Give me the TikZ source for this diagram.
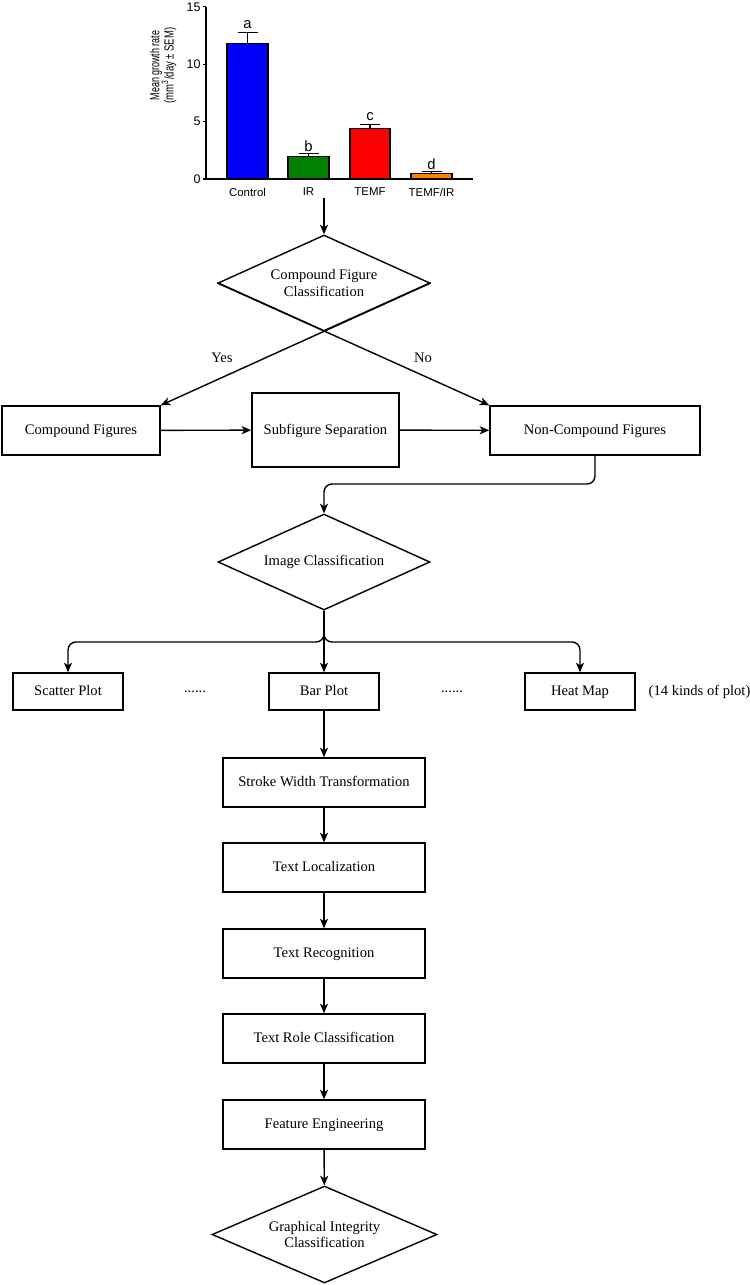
\documentclass[tikz,border=0pt]{standalone}
\usepackage{fontspec}
\usepackage{graphicx}
\setmainfont{Liberation Serif}
\newfontfamily\wykresfont{Liberation Sans}
\usetikzlibrary{shapes.geometric,arrows.meta}

\definecolor{kontrola}{RGB}{0,0,255}
\definecolor{zielony}{RGB}{0,128,0}
\definecolor{czerwony}{RGB}{255,0,0}
\definecolor{pomarancz}{RGB}{255,125,0}

\tikzset{
  blok/.style={draw, inner sep=0pt, text height=1.55ex, text depth=0.45ex},
  srodek/.style={blok, minimum width=4.04cm, minimum height=0.98cm},
  malyblok/.style={blok, minimum width=2.2cm, minimum height=0.74cm},
  romb/.style={diamond, aspect=2.2, draw, inner sep=0pt, align=center,
    minimum width=4.24cm, minimum height=1.92cm},
  osie/.style={font=\wykresfont\fontsize{7.1}{8}\selectfont, inner sep=0pt},
  opis/.style={font=\wykresfont\fontsize{7.5}{8}\selectfont, inner sep=0pt, rotate=90},
  litera/.style={font=\wykresfont\fontsize{8.4}{9}\selectfont, inner sep=0pt},
  grupa/.style={font=\wykresfont\fontsize{6.5}{7}\selectfont, inner sep=0pt}
}

\begin{document}
\begin{tikzpicture}[x=0.02cm, y=-0.02cm, >={Stealth[length=5.5pt,width=4.6pt,inset=1.5pt]}, thick,
    font=\fontsize{8.3}{9.2}\selectfont]
    \useasboundingbox (0,0) rectangle (750,1285);

    % --- WYKRES SŁUPKOWY ---
    \begin{scope}[shift={(0,179)}, yscale=-11.47, semithick]
        % Osie
        \draw (206,15) -- (206,0) -- (473,0);
        \draw (203,0) -- (206,0) (203,5) -- (206,5) (203,10) -- (206,10) (203,15) -- (206,15);
        \node[osie, anchor=east] (t0) at (201,0) {0};
        \node[osie, anchor=east] (t5) at (201,5) {5};
        \node[osie, anchor=east] (t10) at (201,10) {10};
        \node[osie, anchor=east] (t15) at (201,15) {15};
        \node[opis] (opis1) at (156,9.9) {\scalebox{0.68}[1]{Mean growth rate}};
        \node[opis] (opis2) at (169,9.9) {\scalebox{0.72}[1]{(mm\textsuperscript{3}/day ± SEM)}};

        % Słupki z błędem
        \draw[fill=kontrola] (227,0) rectangle (268,11.83);
        \draw (247.5,11.83) -- (247.5,12.8) (237.5,12.8) -- (257.5,12.8);
        \draw[fill=zielony] (288,0) rectangle (329,2.0);
        \draw (308.5,2.0) -- (308.5,2.24) (298.5,2.24) -- (318.5,2.24);
        \draw[fill=czerwony] (350,0) rectangle (390,4.4);
        \draw (370,4.4) -- (370,4.75) (360,4.75) -- (380,4.75);
        \draw[fill=pomarancz] (411,0) rectangle (452,0.5);
        \draw (431.5,0.5) -- (431.5,0.67) (421.5,0.67) -- (441.5,0.67);

        % Litery i grupy
        \node[litera] (la) at (247.5,13.43) {a};
        \node[litera] (lb) at (308.5,2.88) {b};
        \node[litera] (lc) at (370,5.41) {c};
        \node[litera] (ld) at (431.5,1.31) {d};
        \node[grupa] (g1) at (247.5,-1.13) {Control};
        \node[grupa] (g2) at (308.5,-1.13) {IR};
        \node[grupa] (g3) at (370,-1.13) {TEMF};
        \node[grupa] (g4) at (431.5,-1.13) {TEMF/IR};
    \end{scope}
    \coordinate (wykres) at (324,198);

    % --- FIGURY ZŁOŻONE ---
    \node[romb] (d1) at (324,283) {Compound Figure\\Classification};
    \node[blok, minimum width=3.16cm, minimum height=0.98cm] (cf) at (81,430.5) {Compound Figures};
    \node[blok, minimum width=2.94cm, minimum height=1.48cm] (sub) at (325.5,430) {Subfigure Separation};
    \node[blok, minimum width=4.2cm, minimum height=0.98cm] (ncf) at (595,430.5) {Non-Compound Figures};
    \node (tak) at (222,358) {Yes};
    \node (nie) at (423,358) {No};

    \draw[->] (wykres) -- (d1.north);
    \draw[->] (d1.east) -- (cf.north east);
    \draw[->] (d1.west) -- (ncf.north west);
    \draw[->] (cf) -- (sub);
    \draw[->] (sub) -- (ncf);

    % --- KLASYFIKACJA OBRAZU ---
    \coordinate (zal1) at (324,484);
    \coordinate (rozg) at (324,642);
    \node[romb] (d2) at (324,562) {Image Classification};
    \draw[->, rounded corners=4.5pt] (ncf.south) |- (zal1) -- (d2.north);

    \node[malyblok] (scatter) at (68,691.5) {Scatter Plot};
    \node[malyblok] (bar) at (324,691.5) {Bar Plot};
    \node[malyblok] (heat) at (580,691.5) {Heat Map};
    \node (kropki1) at (195,692) {......};
    \node (kropki2) at (452,692) {......};
    \node[anchor=west, inner sep=0pt] (rodzaje) at (648,692) {(14 kinds of plot)};

    \draw[->, rounded corners=4.5pt] (d2.south) -- (rozg) -| (scatter.north);
    \draw[->, rounded corners=4.5pt] (d2.south) -- (rozg) -| (heat.north);
    \draw[->] (d2.south) -- (bar.north);

    % --- ANALIZA TEKSTU ---
    \node[srodek] (swt) at (324,782.5) {Stroke Width Transformation};
    \node[srodek] (tl) at (324,867.5) {Text Localization};
    \node[srodek] (tr) at (324,953.5) {Text Recognition};
    \node[srodek] (trc) at (324,1038.5) {Text Role Classification};
    \node[srodek] (fe) at (324,1124.5) {Feature Engineering};
    \node[romb, minimum width=4.5cm, minimum height=1.94cm] (d3) at (324.5,1234.5) {Graphical Integrity\\Classification};

    \draw[->] (bar) -- (swt);
    \draw[->] (swt) -- (tl);
    \draw[->] (tl) -- (tr);
    \draw[->] (tr) -- (trc);
    \draw[->] (trc) -- (fe);
    \draw[->] (fe) -- (d3);

\end{tikzpicture}
\end{document}
